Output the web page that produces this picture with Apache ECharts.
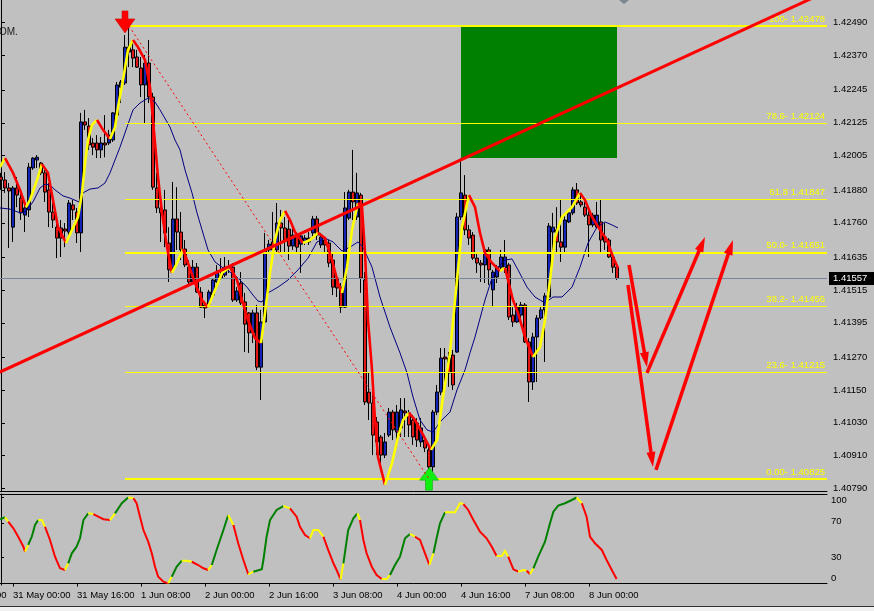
<!DOCTYPE html>
<html><head><meta charset="utf-8">
<script src="https://cdn.jsdelivr.net/npm/echarts@6/dist/echarts.min.js"></script>
<style>html,body{margin:0;padding:0;background:#c0c0c0;}#c{width:874px;height:611px;}</style>
</head><body><div id="c"></div>
<script>
// ---------------- DATA ----------------
const N_SLOTS = 207; // bar slots visible across the chart window
const timeLabels = [[-13,'30 May 08:00'],[3,'31 May 00:00'],[19,'31 May 16:00'],[35,'1 Jun 08:00'],[51,'2 Jun 00:00'],[67,'2 Jun 16:00'],[83,'3 Jun 08:00'],[99,'4 Jun 00:00'],[115,'4 Jun 16:00'],[131,'7 Jun 08:00'],[147,'8 Jun 00:00']];
const priceTicks = [1.42490,1.42370,1.42245,1.42125,1.42005,1.41880,1.41760,1.41635,1.41515,1.41395,1.41270,1.41150,1.41030,1.40910,1.40790];
const oscTicks = [100,70,30,0];
const priceRange = [1.40781, 1.42573];
const oscRange = [-1.74, 104.07];

// candles: [open, close, low, high]
const ohlc = [
[1.41927,1.41916,1.41880,1.41942],[1.41916,1.41887,1.41869,1.41945],[1.41887,1.41876,1.41668,1.41905],[1.41744,1.41887,1.41690,1.41894],
[1.41887,1.41861,1.41817,1.41927],[1.41850,1.41796,1.41770,1.41880],[1.41788,1.41814,1.41726,1.41843],[1.41807,1.41963,1.41781,1.41978],
[1.41960,1.41996,1.41953,1.41999],[1.41989,1.41999,1.41960,1.42007],[1.41978,1.41942,1.41934,1.41982],[1.41942,1.41872,1.41836,1.41953],
[1.41880,1.41799,1.41744,1.41905],[1.41799,1.41770,1.41741,1.41832],[1.41744,1.41704,1.41631,1.41781],[1.41741,1.41704,1.41635,1.41770],
[1.41737,1.41730,1.41671,1.41759],[1.41726,1.41832,1.41708,1.41843],[1.41825,1.41807,1.41770,1.41843],[1.41799,1.41723,1.41686,1.41814],
[1.41723,1.42128,1.41653,1.42161],[1.42128,1.42117,1.42099,1.42172],[1.42113,1.42044,1.42026,1.42142],[1.42051,1.42036,1.42007,1.42069],
[1.42051,1.42026,1.41996,1.42080],[1.42026,1.42051,1.41996,1.42073],[1.42051,1.42044,1.41999,1.42153],[1.42051,1.42080,1.42044,1.42099],
[1.42062,1.42161,1.42055,1.42164],[1.42153,1.42263,1.42146,1.42274],[1.42255,1.42274,1.42197,1.42281],[1.42270,1.42401,1.42263,1.42445],
[1.42401,1.42383,1.42328,1.42478],[1.42391,1.42361,1.42328,1.42427],[1.42365,1.42328,1.42325,1.42391],[1.42325,1.42263,1.42219,1.42365],
[1.42263,1.42343,1.42124,1.42372],[1.42343,1.42219,1.42197,1.42427],[1.42219,1.41890,1.41880,1.42234],[1.41887,1.41814,1.41796,1.41942],
[1.41814,1.41796,1.41690,1.41843],[1.41807,1.41723,1.41671,1.41880],[1.41686,1.41588,1.41544,1.41744],[1.41595,1.41774,1.41577,1.41909],
[1.41774,1.41726,1.41661,1.41890],[1.41726,1.41661,1.41624,1.41799],[1.41664,1.41606,1.41598,1.41697],[1.41598,1.41544,1.41537,1.41624],
[1.41544,1.41598,1.41537,1.41624],[1.41598,1.41507,1.41504,1.41613],[1.41507,1.41452,1.41449,1.41525],[1.41460,1.41449,1.41412,1.41471],
[1.41463,1.41507,1.41452,1.41515],[1.41496,1.41551,1.41489,1.41558],[1.41544,1.41577,1.41540,1.41606],[1.41569,1.41558,1.41551,1.41631],
[1.41569,1.41598,1.41562,1.41635],[1.41595,1.41598,1.41577,1.41624],[1.41598,1.41478,1.41471,1.41613],[1.41478,1.41511,1.41471,1.41525],
[1.41540,1.41467,1.41460,1.41580],[1.41471,1.41390,1.41288,1.41504],[1.41431,1.41358,1.41285,1.41434],[1.41358,1.41431,1.41321,1.41442],
[1.41431,1.41233,1.41222,1.41460],[1.41233,1.41398,1.41113,1.41442],[1.41398,1.41661,1.41394,1.41723],[1.41661,1.41682,1.41650,1.41697],
[1.41690,1.41661,1.41650,1.41799],[1.41661,1.41759,1.41650,1.41832],[1.41759,1.41741,1.41650,1.41807],[1.41741,1.41697,1.41650,1.41781],
[1.41737,1.41675,1.41624,1.41770],[1.41675,1.41715,1.41661,1.41744],[1.41712,1.41671,1.41650,1.41726],[1.41682,1.41712,1.41577,1.41723],
[1.41690,1.41704,1.41679,1.41715],[1.41704,1.41690,1.41679,1.41726],[1.41723,1.41774,1.41708,1.41785],[1.41774,1.41715,1.41697,1.41785],
[1.41679,1.41708,1.41668,1.41723],[1.41697,1.41679,1.41650,1.41708],[1.41686,1.41613,1.41598,1.41697],[1.41624,1.41525,1.41496,1.41650],
[1.41558,1.41522,1.41489,1.41562],[1.41525,1.41452,1.41431,1.41540],[1.41452,1.41814,1.41449,1.41872],[1.41777,1.41872,1.41770,1.41880],
[1.41872,1.41836,1.41770,1.42026],[1.41781,1.41869,1.41770,1.41942],[1.41861,1.41558,1.41504,1.41869],[1.41551,1.41106,1.41095,1.41580],
[1.41142,1.41102,1.41040,1.41212],[1.41102,1.40985,1.40912,1.41161],[1.41033,1.40960,1.40912,1.41051],[1.40978,1.40912,1.40883,1.40985],
[1.40912,1.40960,1.40901,1.40993],[1.40985,1.41069,1.40978,1.41084],[1.41069,1.41004,1.40967,1.41077],[1.40996,1.41069,1.40938,1.41095],
[1.41011,1.41077,1.40978,1.41120],[1.41073,1.41066,1.40978,1.41120],[1.41066,1.41022,1.40978,1.41077],[1.41040,1.40978,1.40949,1.41058],
[1.41029,1.40967,1.40942,1.41047],[1.40960,1.41011,1.40942,1.41047],[1.40967,1.40938,1.40923,1.40978],[1.40931,1.40869,1.40825,1.40942],
[1.40869,1.41069,1.40851,1.41077],[1.41069,1.41142,1.41058,1.41168],[1.41142,1.41266,1.41131,1.41303],[1.41270,1.41263,1.41168,1.41303],
[1.41266,1.41212,1.41161,1.41288],[1.41277,1.41168,1.41150,1.41296],[1.41288,1.41781,1.41285,1.41796],[1.41781,1.41869,1.41770,1.41996],
[1.41861,1.41734,1.41715,1.41934],[1.41734,1.41704,1.41679,1.41752],[1.41715,1.41631,1.41624,1.41726],[1.41631,1.41613,1.41577,1.41650],
[1.41613,1.41606,1.41544,1.41624],[1.41606,1.41661,1.41540,1.41671],[1.41661,1.41588,1.41533,1.41671],[1.41515,1.41580,1.41452,1.41588],
[1.41562,1.41598,1.41540,1.41606],[1.41598,1.41635,1.41588,1.41661],[1.41595,1.41635,1.41577,1.41697],[1.41606,1.41416,1.41405,1.41613],
[1.41423,1.41398,1.41380,1.41452],[1.41398,1.41452,1.41394,1.41467],[1.41423,1.41460,1.41405,1.41471],[1.41460,1.41325,1.41321,1.41467],
[1.41325,1.41179,1.41106,1.41339],[1.41179,1.41343,1.41150,1.41358],[1.41343,1.41412,1.41179,1.41423],[1.41412,1.41442,1.41405,1.41452],
[1.41442,1.41493,1.41252,1.41504],[1.41489,1.41748,1.41478,1.41759],[1.41726,1.41744,1.41650,1.41796],[1.41734,1.41690,1.41650,1.41817],
[1.41690,1.41671,1.41617,1.41843],[1.41671,1.41770,1.41650,1.41796],[1.41763,1.41796,1.41759,1.41799],[1.41796,1.41880,1.41788,1.41890],
[1.41880,1.41832,1.41825,1.41905],[1.41836,1.41825,1.41817,1.41869],[1.41817,1.41788,1.41781,1.41836],[1.41788,1.41752,1.41635,1.41807],
[1.41752,1.41788,1.41744,1.41796],[1.41744,1.41788,1.41741,1.41836],[1.41763,1.41697,1.41653,1.41843],[1.41708,1.41690,1.41661,1.41759],
[1.41697,1.41635,1.41631,1.41704],[1.41635,1.41598,1.41577,1.41642],[1.41598,1.41557,1.41551,1.41606]
];

// smoothed trend indicator (yellow rising / red falling): [bar, price]
const hmaLine = [
[-0.25,1.41963],[1,1.41996],[3,1.41942],[4.75,1.41880],[6.25,1.41817],[7.25,1.41843],[9,1.41916],[10.25,1.41974],[11.75,1.41942],[13,1.41843],
[14.25,1.41744],[16.25,1.41686],[17.75,1.41734],[19.25,1.41781],[20.25,1.41869],[21,1.41978],[21.75,1.42062],[22.75,1.42117],[24,1.42135],[25.5,1.42099],
[27.25,1.42066],[28.5,1.42109],[29.25,1.42182],[30.5,1.42281],[31.75,1.42391],[33,1.42427],[34.25,1.42401],[36,1.42354],[37.25,1.42255],[38,1.42135],
[39.25,1.41927],[40.25,1.41796],[41.5,1.41671],[42.75,1.41577],[44,1.41613],[45.5,1.41664],[46.75,1.41613],[48.5,1.41540],[50.25,1.41478],[51.75,1.41452],
[53.5,1.41515],[55.25,1.41577],[57.25,1.41598],[59,1.41551],[60.25,1.41478],[61.75,1.41405],[63.5,1.41339],[65,1.41321],[66,1.41431],[67.25,1.41577],
[68.5,1.41697],[69.75,1.41770],[71,1.41803],[72.25,1.41770],[73.5,1.41726],[75.5,1.41686],[77.25,1.41697],[79.25,1.41723],[81,1.41704],[82.75,1.41624],
[84.25,1.41540],[85.25,1.41504],[86.5,1.41598],[87.75,1.41734],[89.25,1.41832],[90.25,1.41817],[91,1.41650],[91.75,1.41405],[92.75,1.41223],[93.5,1.41040],
[94.25,1.40905],[96,1.40803],[97.75,1.40883],[99.25,1.40978],[100.5,1.41040],[102,1.41066],[103.5,1.41040],[105.25,1.40993],[107.5,1.40931],[109,1.40967],
[110.5,1.41124],[112.25,1.41285],[114,1.41551],[115.25,1.41744],[117,1.41861],[118.5,1.41817],[119.75,1.41723],[121,1.41650],[122.75,1.41613],[124.75,1.41584],
[126,1.41595],[126.75,1.41551],[128,1.41478],[129.25,1.41431],[131,1.41343],[133,1.41270],[134.75,1.41306],[136,1.41405],[137.25,1.41551],[138.5,1.41708],
[140.25,1.41781],[142.75,1.41817],[144.75,1.41869],[146,1.41843],[147.75,1.41781],[149.75,1.41734],[151.5,1.41697],[153,1.41635],[154.25,1.41595]
];

// navy moving average: [bar, price]
const maLine = [
[-0.25,1.41814],[2.25,1.41810],[4.75,1.41796],[6,1.41799],[8,1.41836],[9.75,1.41887],[11,1.41901],[12.25,1.41898],[13.5,1.41880],[15.5,1.41858],
[17.25,1.41850],[19.5,1.41836],[20.5,1.41869],[22.25,1.41883],[24.25,1.41887],[26,1.41905],[27.25,1.41942],[28.5,1.41989],[29.75,1.42036],[31.5,1.42109],
[33,1.42172],[34.75,1.42197],[36.75,1.42215],[38.5,1.42201],[39.75,1.42172],[42.25,1.42109],[43.5,1.42062],[44.75,1.42026],[46,1.41953],[47.75,1.41869],
[49,1.41796],[50.25,1.41734],[51.75,1.41661],[53.5,1.41617],[55.25,1.41598],[57.25,1.41580],[59.25,1.41558],[61.5,1.41525],[63,1.41496],[64.25,1.41474],
[65.25,1.41471],[66.75,1.41504],[69.25,1.41525],[71.75,1.41551],[74.25,1.41588],[76.75,1.41631],[79,1.41690],[81,1.41704],[83,1.41690],[85.25,1.41657],
[87.25,1.41671],[89.25,1.41690],[90.5,1.41671],[92.75,1.41598],[94.75,1.41489],[97.25,1.41379],[99.75,1.41285],[101.5,1.41212],[103,1.41124],[104.75,1.41040],
[106.5,1.41004],[108,1.40996],[109.75,1.41033],[112.25,1.41069],[114,1.41150],[116,1.41223],[117.25,1.41285],[118.5,1.41343],[121,1.41478],[122.75,1.41558],
[124.25,1.41598],[126,1.41624],[127.75,1.41628],[129.25,1.41588],[131.5,1.41525],[133.5,1.41489],[136,1.41467],[138,1.41489],[140.25,1.41489],[142.75,1.41525],
[144.75,1.41598],[146.75,1.41686],[149,1.41744],[151,1.41763],[152.75,1.41752],[154.25,1.41741]
];

// oscillator (sub window): [bar, value]
const oscLine = [
[-0.25,74.7],[1,77.0],[1.8,71.9],[3.1,64.2],[4.3,54.4],[5.6,42.8],[6,37.0],[6.8,44.8],[7.7,54.4],[8.5,68.0],[9.3,73.8],[10.2,73.8],[11,66.0],[12.25,50.6],
[13.5,31.2],[14.75,17.7],[16,15.7],[16.8,23.5],[17.7,35.1],[18.9,42.8],[19.75,52.6],[20.6,73.8],[21.8,81.6],[23.1,80.8],[24.3,77.7],[25.6,74.7],[27.25,73.8],
[28.5,81.6],[30.2,93.3],[31.8,100.0],[33.1,99.1],[33.9,93.3],[34.75,77.7],[35.6,62.2],[36.8,48.6],[37.7,35.1],[38.5,19.5],[39.3,7.9],[40.6,2.1],[41.8,0.2],
[42.7,7.9],[43.9,19.5],[45.2,26.5],[46.4,26.5],[47.7,25.3],[49.3,21.5],[50.6,17.7],[51.8,15.7],[52.7,21.5],[53.9,39.0],[55.6,62.2],[56.8,79.7],[58.1,68.0],
[59.3,46.7],[60.6,27.3],[61.8,10.7],[63.1,13.7],[65.2,16.5],[65.6,27.3],[66.4,54.4],[67.25,73.8],[68.9,85.5],[70.6,90.1],[72.25,87.4],[73.9,77.7],[74.75,66.0],
[76,56.4],[77.25,52.6],[78.1,62.2],[79.3,62.2],[80.6,54.4],[81.8,39.0],[83.1,23.5],[83.9,15.7],[84.9,4.9],[85.6,23.5],[86.8,62.2],[88.1,75.8],[89.1,81.6],
[89.75,73.8],[90.6,50.6],[91.4,35.1],[92.7,19.5],[93.9,9.9],[95.2,5.2],[96.4,5.2],[97.25,9.9],[98.5,21.5],[99.75,31.2],[101,52.6],[102.25,57.6],[103.5,54.4],
[104.75,50.6],[106,35.1],[107.1,21.5],[108.1,35.1],[108.9,52.6],[109.75,70.0],[111,82.8],[112.25,82.8],[113.5,82.8],[114.75,93.3],[115.6,92.4],[116.8,85.5],
[118.1,73.8],[119.75,60.2],[121.4,52.6],[122.7,42.8],[123.9,32.0],[125.2,32.0],[126,37.8],[126.8,31.2],[128.1,16.5],[129.3,13.7],[130.6,15.7],[131.4,14.9],
[132.25,11.0],[133.1,17.7],[134.3,31.2],[136,48.6],[137.25,70.0],[138.1,83.5],[139.3,90.5],[141,93.3],[142.7,97.1],[143.9,100.0],[145.2,93.3],[146.4,77.7],
[147.25,54.4],[148.5,46.7],[150.2,39.0],[151.4,27.3],[152.7,15.7],[153.9,5.2]
];

// Fibonacci retracement
const fibLevels = [1.42478,1.42124,1.41847,1.41651,1.41456,1.41215,1.40825];
const fibLabels = ['100- 1.42478','78.6- 1.42124','61.8 1.41847','50.0- 1.41651','38.2- 1.41456','23.6- 1.41215','0.00- 1.40825'];
const fibStartBar = 31;
const fibBase = [[32,1.42478],[107,1.40825]];      // dotted high->low line
// green zone rectangle
const zoneBars = [115, 154];
const zonePrices = [1.42478, 1.41996];
// red trend line anchors
const trendAnchors = [[0,1.41217],[200,1.42561]];
// arrow markers [bar, price]
const downMark = [31, 1.42493];
const upMark = [107, 1.40826];
// forecast arrows [barFrom, priceFrom, barTo, priceTo]
const forecastArrows = [
  [157,1.41606,161.5,1.41233],
  [156.75,1.41533,163,1.40869],
  [161.5,1.41212,176,1.41708],
  [163.75,1.40858,183,1.41697]
];

// ---------------- STYLE ----------------
const F = 'Liberation Sans, Arial, sans-serif';
const FS = 9.5;
const fibWidths = [2,1,1,2,1,1,2];

// ---------------- BUILD ----------------
const cats = Array.from({length: N_SLOTS}, (_, i) => String(i));
const labelMap = new Map(timeLabels.filter(t => t[0] >= 0));
const lastClose = ohlc[ohlc.length - 1][1];

function segments(points, colorFn) {
  const out = [];
  let cur = null;
  for (let j = 1; j < points.length; j++) {
    const col = colorFn(j);
    if (cur && cur.color === col) cur.coords.push(points[j]);
    else { cur = {coords: [points[j-1], points[j]], color: col}; out.push(cur); }
  }
  return out.map(s => ({coords: s.coords, lineStyle: {color: s.color}}));
}
const hmaSegs = segments(hmaLine, j => hmaLine[j][1] >= hmaLine[j-1][1] ? '#ffff00' : '#ff0000');
const oscSegs = segments(oscLine, j => {
  const d = Math.sign(oscLine[j][1] - oscLine[j-1][1]);
  if (d === 0) return '#ffff00';
  if (j > 1) {
    const pd = Math.sign(oscLine[j-1][1] - oscLine[j-2][1]);
    if (pd !== d) return '#ffff00';
  }
  return d > 0 ? '#008000' : '#ff0000';
});

// extend the trend line across the window
const tSlope = (trendAnchors[1][1] - trendAnchors[0][1]) / (trendAnchors[1][0] - trendAnchors[0][0]);
const tAt = x => trendAnchors[0][1] + (x - trendAnchors[0][0]) * tSlope;
const trendData = [[-0.5, tAt(-0.5)], [N_SLOTS - 0.5, tAt(N_SLOTS - 0.5)]];

const fibMarks = fibLevels.map((lv, k) => {
  const ls = {color: '#ffff00', width: fibWidths[k], type: 'solid'};
  const lb = {show: true, position: 'insideEndTop', formatter: fibLabels[k], color: '#ffff00',
              fontSize: FS, fontFamily: F, distance: 2};
  return [{coord: [fibStartBar, lv], lineStyle: ls, label: lb}, {coord: [N_SLOTS - 0.5, lv], lineStyle: ls, label: lb}];
});

const chart = echarts.init(document.getElementById('c'), null, {renderer: 'canvas', width: 874, height: 611});
const axisTxt = {fontSize: FS, color: '#000', fontFamily: F};

chart.setOption({
  animation: false,
  backgroundColor: '#c0c0c0',
  textStyle: {fontFamily: F},
  grid: [
    {left: -1, top: 0, width: 828, height: 491, containLabel: false, outerBoundsMode: 'none'},
    {left: -1, top: 494, width: 828, height: 91, containLabel: false, outerBoundsMode: 'none'}
  ],
  xAxis: [
    {type: 'category', gridIndex: 0, data: cats, boundaryGap: true,
     axisLine: {show: true, lineStyle: {color: '#000', width: 1}}, axisTick: {show: false}, axisLabel: {show: false}, splitLine: {show: false}},
    {type: 'value', gridIndex: 0, min: -0.5, max: N_SLOTS - 0.5, show: false, splitLine: {show: false}},
    {type: 'category', gridIndex: 1, data: cats, boundaryGap: true, position: 'bottom',
     axisLine: {show: true, lineStyle: {color: '#000', width: 1}},
     axisTick: {show: true, alignWithLabel: true, length: 3, interval: (i) => labelMap.has(i), lineStyle: {color: '#000'}},
     axisLabel: Object.assign({show: true, interval: (i) => labelMap.has(i), formatter: (v, i) => labelMap.get(Number(v)) || '',
                align: 'left', margin: 5, hideOverlap: false}, axisTxt),
     splitLine: {show: false}},
    {type: 'value', gridIndex: 1, min: -0.5, max: N_SLOTS - 0.5, position: 'top',
     axisLine: {show: true, onZero: false, lineStyle: {color: '#000', width: 1}}, axisTick: {show: false}, axisLabel: {show: false}, splitLine: {show: false}}
  ],
  yAxis: [
    {type: 'value', gridIndex: 0, position: 'right', min: priceRange[0], max: priceRange[1], scale: true,
     axisLine: {show: true, lineStyle: {color: '#000', width: 1}},
     axisTick: {show: true, length: 4, customValues: priceTicks, lineStyle: {color: '#000'}},
     axisLabel: Object.assign({show: true, customValues: priceTicks, formatter: v => v.toFixed(5), margin: 6, hideOverlap: false}, axisTxt),
     splitLine: {show: false}},
    {type: 'value', gridIndex: 1, position: 'right', min: oscRange[0], max: oscRange[1],
     axisLine: {show: true, lineStyle: {color: '#000', width: 1}},
     axisTick: {show: true, length: 3, customValues: oscTicks, lineStyle: {color: '#000'}},
     axisLabel: {show: true, customValues: oscTicks, margin: 4, hideOverlap: false,
       formatter: v => '{r' + v + '|' + v + '}',
       rich: {
         r100: {padding: [5,0,0,0], fontSize: FS, color: '#000', fontFamily: F},
         r70: {padding: [0,0,3,0], fontSize: FS, color: '#000', fontFamily: F},
         r30: {padding: [0,0,0,0], fontSize: FS, color: '#000', fontFamily: F},
         r0: {padding: [0,0,11,0], fontSize: FS, color: '#000', fontFamily: F}
       }},
     splitLine: {show: false}}
  ],
  series: [
    // green zone
    {type: 'line', xAxisIndex: 1, yAxisIndex: 0, data: [], z: 1, silent: true,
     markArea: {silent: true, itemStyle: {color: '#008000', opacity: 1},
       data: [[{coord: [zoneBars[0], zonePrices[0]]}, {coord: [zoneBars[1], zonePrices[1]]}]]}},
    // current price line
    {type: 'line', xAxisIndex: 1, yAxisIndex: 0, data: [], z: 2, silent: true,
     markLine: {silent: true, symbol: ['none','none'], animation: false,
       data: [[{coord: [-0.5, lastClose]}, {coord: [N_SLOTS - 0.5, lastClose]}]],
       lineStyle: {color: '#76889a', width: 1, type: 'solid'},
       label: {show: true, position: 'end', distance: 2, formatter: () => lastClose.toFixed(5),
               backgroundColor: '#000', color: '#fff', fontSize: FS, fontFamily: F, padding: [2,8,1,4]}}},
    // candles
    {type: 'candlestick', xAxisIndex: 0, yAxisIndex: 0, data: ohlc, barWidth: 3, z: 2, silent: true,
     itemStyle: {color: '#1424b4', color0: '#e01818', borderColor: '#000', borderColor0: '#000', borderWidth: 1}},
    // fibonacci levels
    {type: 'line', xAxisIndex: 1, yAxisIndex: 0, data: [], z: 3, silent: true,
     markLine: {silent: true, symbol: ['none','none'], animation: false, data: fibMarks}},
    // navy MA
    {type: 'line', xAxisIndex: 1, yAxisIndex: 0, data: maLine, showSymbol: false, symbol: 'none', z: 4, silent: true,
     lineStyle: {color: '#000080', width: 1}},
    // smoothed colored line
    {type: 'lines', coordinateSystem: 'cartesian2d', xAxisIndex: 1, yAxisIndex: 0, polyline: true, clip: true, z: 5, silent: true,
     data: hmaSegs, lineStyle: {width: 2.6, opacity: 1}},
    // trend line
    {type: 'line', xAxisIndex: 1, yAxisIndex: 0, data: trendData, showSymbol: false, symbol: 'none', z: 6, silent: true, clip: true,
     lineStyle: {color: '#ff0000', width: 3}},
    // dotted fib base
    {type: 'line', xAxisIndex: 1, yAxisIndex: 0, data: fibBase, showSymbol: false, symbol: 'none', z: 6, silent: true,
     lineStyle: {color: '#ff0000', width: 1, type: [2,3]}},
    // arrow markers
    {type: 'line', xAxisIndex: 1, yAxisIndex: 0, data: [], z: 7, silent: true,
     markPoint: {silent: true, label: {show: false}, animation: false,
       data: [
         {coord: downMark, symbol: 'path://M7,0L13,0L13,8L20,8L10,22L0,8L7,8Z', symbolSize: [20,22], itemStyle: {color: '#ff0000', borderColor: '#c00000', borderWidth: 0.5}},
         {coord: upMark, symbol: 'path://M10,0L19,13L13,13L13,23L6,23L6,13L0,13Z', symbolSize: [19,23], itemStyle: {color: '#10f010', borderColor: '#00a000', borderWidth: 0.5}}
       ]}},
    // forecast arrows
    {type: 'custom', coordinateSystem: 'cartesian2d', xAxisIndex: 1, yAxisIndex: 0, z: 8, silent: true,
     data: forecastArrows, encode: {x: [0,2], y: [1,3]},
     renderItem: (params, api) => {
       const a = api.coord([api.value(0), api.value(1)]);
       const b = api.coord([api.value(2), api.value(3)]);
       const dx = b[0]-a[0], dy = b[1]-a[1], L = Math.hypot(dx, dy), ux = dx/L, uy = dy/L;
       const hl = 15, hw = 4.5;
       const base = [b[0]-ux*hl, b[1]-uy*hl];
       return {type: 'group', children: [
         {type: 'line', shape: {x1: a[0], y1: a[1], x2: base[0]+ux*3, y2: base[1]+uy*3}, style: {stroke: '#ff0000', lineWidth: 3.5}},
         {type: 'polygon', shape: {points: [b, [base[0]-uy*hw, base[1]+ux*hw], [base[0]+uy*hw, base[1]-ux*hw]]}, style: {fill: '#ff0000'}}
       ]};
     }},
    // oscillator
    {type: 'lines', coordinateSystem: 'cartesian2d', xAxisIndex: 3, yAxisIndex: 1, polyline: true, clip: true, z: 5, silent: true,
     data: oscSegs, lineStyle: {width: 2, opacity: 1}}
  ]
});

// decorations (partially hidden time label, cropped caption, window edge)
const cut = timeLabels.filter(t => t[0] < 0)[0];
const cutX = chart.convertToPixel({xAxisIndex: 3}, cut[0]);
chart.setOption({
  graphic: [
    {type: 'text', left: cutX, top: 590, style: {text: cut[1], fill: '#000', font: FS + 'px ' + F}},
    {type: 'text', left: -1, top: 27, style: {text: 'OM.', fill: '#202020', font: '10px ' + F}},
    {type: 'polygon', shape: {points: [[619,0],[629,0],[624,4]]}, style: {fill: '#7d8590'}},
    {type: 'rect', shape: {x: 0, y: 606, width: 874, height: 5}, style: {fill: '#f0f0f0'}},
    {type: 'line', shape: {x1: 0, y1: 606.5, x2: 874, y2: 606.5}, style: {stroke: '#303030', lineWidth: 1}}
  ]
});
</script>
</body></html>
